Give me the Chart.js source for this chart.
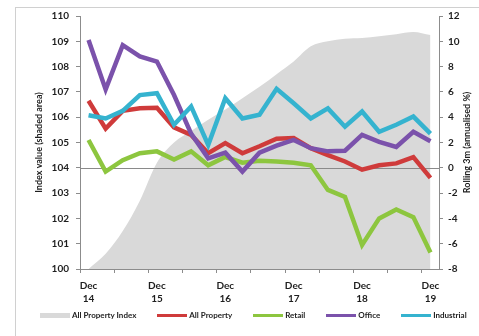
<!DOCTYPE html>
<html>
<head>
<meta charset="utf-8">
<script src="https://cdn.jsdelivr.net/npm/chart.js@4.4.1/dist/chart.umd.min.js"></script>
<style>
  html, body { margin: 0; padding: 0; background: #fff; }
  #wrap { position: relative; width: 479px; height: 336px; overflow: hidden; font-family: Lato, sans-serif; }
  #frame { position: absolute; left: 15px; top: 7px; width: 520px; height: 400px;
           border-left: 1px solid #d0d0d0; border-top: 1px solid #d0d0d0; }
  canvas { position: absolute; left: 0; top: 0; }
  #legend { position: absolute; left: 40px; top: 310px; display: flex; align-items: center;
            font: bold 8px Lato, sans-serif; color: #222; white-space: nowrap; }
  .item { display: flex; align-items: center; margin-right: 21px; }
  .swatch { width: 30px; height: 3px; margin-right: 2px; }
</style>
</head>
<body>
<div id="wrap">
  <div id="frame"></div>
  <canvas id="chart" width="479" height="336"></canvas>
  <div id="legend"></div>
</div>
<script>
// quarterly points, Dec 2014 to Dec 2019
const quarters = ['Dec 14','Mar 15','Jun 15','Sep 15','Dec 15','Mar 16','Jun 16','Sep 16','Dec 16',
  'Mar 17','Jun 17','Sep 17','Dec 17','Mar 18','Jun 18','Sep 18','Dec 18','Mar 19','Jun 19','Sep 19','Dec 19'];

// index level (left axis, shaded)
const allPropertyIndex = [100.0, 100.6, 101.5, 102.7, 104.2, 105.0, 105.45, 105.9, 106.3, 106.75, 107.2,
  107.7, 108.2, 108.8, 109.0, 109.1, 109.13, 109.2, 109.28, 109.37, 109.25];

// rolling 3m annualised % (right axis)
const allProperty = [5.3, 3.1, 4.5, 4.7, 4.75, 3.2, 2.6, 1.15, 1.95, 1.15, 1.7, 2.3, 2.35, 1.55, 1.0, 0.5, -0.15, 0.2, 0.35, 0.85, -0.8];
const retail = [2.2, -0.3, 0.6, 1.15, 1.3, 0.65, 1.3, 0.2, 0.85, 0.4, 0.55, 0.5, 0.4, 0.2, -1.75, -2.3, -6.1, -4.0, -3.3, -3.9, -6.7];
const office = [10.1, 6.2, 9.7, 8.8, 8.4, 5.75, 2.7, 0.75, 1.2, -0.3, 1.2, 1.75, 2.2, 1.55, 1.3, 1.35, 2.6, 2.05, 1.65, 2.85, 2.1];
const industrial = [4.15, 3.9, 4.5, 5.75, 5.9, 3.4, 4.85, 1.8, 5.5, 3.9, 4.2, 6.25, 5.1, 3.9, 4.7, 3.25, 4.45, 2.85, 3.4, 4.05, 2.7];

const seriesNames = ['All Property Index', 'All Property', 'Retail', 'Office', 'Industrial'];
const seriesColors = ['#d9d9d9', '#cf3b3b', '#8dc63f', '#7b52ab', '#35b3cf'];

const axisGray = '#8c8c8c';
const textColor = '#1e1e1e';
const tickFont = { family: 'Lato', size: 10, weight: 'bold' };
const titleFont = { family: 'Lato', size: 9, weight: 'bold' };
const rightTitle = 'Rolling 3m (annualised %)';

function lineSet(i, data, order) {
  return {
    label: seriesNames[i], data: data, yAxisID: 'y1', order: order,
    borderColor: seriesColors[i], backgroundColor: seriesColors[i],
    borderWidth: 4.5, pointRadius: 0, tension: 0, fill: false,
    borderJoinStyle: 'miter'
  };
}

// zero line of the right axis, drawn just above the shaded index
const zeroLine = {
  id: 'zeroLine',
  afterDatasetDraw(chart, args) {
    if (args.index !== 0) return;
    const y = chart.scales.y1.getPixelForValue(0);
    const ctx = chart.ctx;
    ctx.save();
    ctx.strokeStyle = '#8a8a8a';
    ctx.lineWidth = 1;
    ctx.beginPath();
    ctx.moveTo(chart.chartArea.left, Math.round(y) + 0.5);
    ctx.lineTo(chart.chartArea.right, Math.round(y) + 0.5);
    ctx.stroke();
    ctx.restore();
  }
};

// right axis title reads bottom-to-top like the left one
const rightAxisTitle = {
  id: 'rightAxisTitle',
  afterDraw(chart) {
    const s = chart.scales.y1;
    const ctx = chart.ctx;
    ctx.save();
    ctx.translate(s.right - 12, (s.top + s.bottom) / 2);
    ctx.rotate(-Math.PI / 2);
    ctx.font = 'bold 9px Lato';
    ctx.fillStyle = textColor;
    ctx.textAlign = 'center';
    ctx.textBaseline = 'middle';
    ctx.fillText(rightTitle, 0, 0);
    ctx.restore();
  }
};

new Chart(document.getElementById('chart'), {
  type: 'line',
  data: {
    labels: quarters,
    datasets: [
      {
        label: seriesNames[0], data: allPropertyIndex, yAxisID: 'y', order: 10,
        backgroundColor: seriesColors[0], borderWidth: 0, pointRadius: 0,
        fill: 'start', cubicInterpolationMode: 'monotone'
      },
      lineSet(1, allProperty, 4),
      lineSet(2, retail, 3),
      lineSet(3, office, 2),
      lineSet(4, industrial, 1)
    ]
  },
  options: {
    responsive: false,
    animation: false,
    layout: { padding: { left: 30, right: 0, top: 16, bottom: 33 } },
    plugins: { legend: { display: false }, tooltip: { enabled: false } },
    scales: {
      x: {
        offset: true,
        grid: {
          offset: true, drawOnChartArea: false, drawTicks: true, tickLength: 4,
          tickColor: ctx => (ctx.index !== undefined && ctx.index % 2 === 0) ? axisGray : 'rgba(0,0,0,0)'
        },
        border: { color: axisGray, width: 1 },
        ticks: {
          autoSkip: false, maxRotation: 0, padding: 6, color: textColor,
          font: Object.assign({ lineHeight: 1.3 }, tickFont),
          callback: function (v, i) {
            const q = quarters[i];
            return q.startsWith('Dec') ? q.split(' ') : '';
          }
        },
        afterFit: s => { s.height = 34; }
      },
      y: {
        position: 'left', min: 100, max: 110,
        grid: { drawOnChartArea: false, tickLength: 4, tickColor: axisGray },
        border: { color: axisGray, width: 1 },
        ticks: { stepSize: 1, padding: 7, color: textColor, font: tickFont },
        title: { display: true, text: 'Index value (shaded area)', color: textColor, font: titleFont, padding: 4 },
        afterFit: s => { s.width = 50; }
      },
      y1: {
        position: 'right', min: -8, max: 12,
        grid: { drawOnChartArea: false, tickLength: 4, tickColor: axisGray },
        border: { color: axisGray, width: 1 },
        ticks: { stepSize: 2, padding: 5, color: textColor, font: tickFont },
        afterFit: s => { s.width = 40; }
      }
    }
  },
  plugins: [zeroLine, rightAxisTitle]
});

// legend row
const legend = document.getElementById('legend');
seriesNames.forEach((name, i) => {
  const item = document.createElement('div');
  item.className = 'item';
  const sw = document.createElement('span');
  sw.className = 'swatch';
  sw.style.background = seriesColors[i];
  if (i === 0) sw.style.height = '5px';
  const label = document.createElement('span');
  label.textContent = name;
  item.appendChild(sw);
  item.appendChild(label);
  legend.appendChild(item);
});
</script>
</body>
</html>
